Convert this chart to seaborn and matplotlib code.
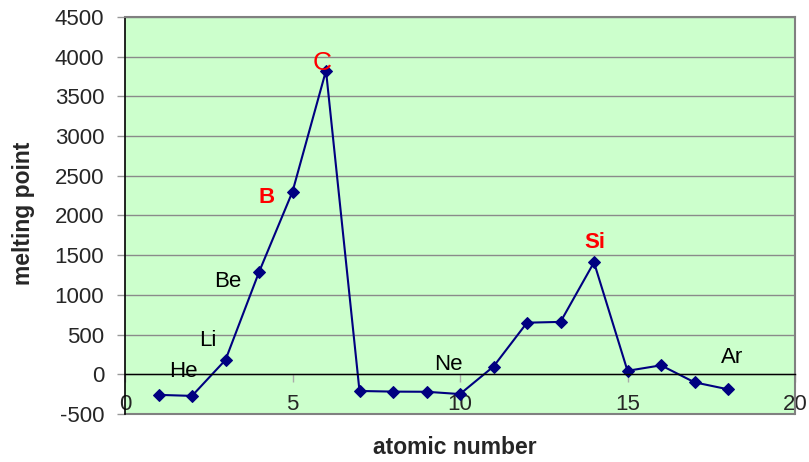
import matplotlib
matplotlib.use("Agg")
import matplotlib.pyplot as plt
import seaborn as sns
import pandas as pd

# Melting points (°C) of the first 18 elements
atomic_number = list(range(1, 19))
melting_point = [-259, -272, 181, 1287, 2300, 3825, -210, -218, -220, -249,
                 98, 650, 660, 1410, 44, 113, -101, -189]

# Element symbols written next to the curve
label_symbols = ["He", "Li", "Be", "B", "C", "Ne", "Si", "Ar"]
x_ticks = [0, 5, 10, 15, 20]
y_ticks = list(range(-500, 4501, 500))

# Where each symbol is written (data coords) and how it is styled
label_xy = {"He": (1.75, 40), "Li": (2.48, 420), "Be": (3.07, 1170),
            "B": (4.24, 2225), "C": (5.87, 3925), "Ne": (9.64, 125),
            "Si": (14.03, 1660), "Ar": (18.12, 215)}
label_style = {"B": dict(color="red", fontweight="bold", fontsize=16),
               "C": dict(color="red", fontsize=19),
               "Si": dict(color="red", fontweight="bold", fontsize=16)}

df = pd.DataFrame({"atomic number": atomic_number, "melting point": melting_point})

sns.set_style("white")
plt.rcParams["font.family"] = ["Liberation Sans", "DejaVu Sans"]

fig = plt.figure(figsize=(8.09, 4.62), dpi=100)
ax = fig.add_axes([125 / 809, 1 - 414 / 462, 670 / 809, 397 / 462])
ax.set_facecolor("#CCFFCC")

sns.lineplot(data=df, x="atomic number", y="melting point", ax=ax,
             color="#000080", linewidth=1.5, marker="D", markersize=6,
             markeredgecolor="#000080", markerfacecolor="#000080")

ax.set_xlim(0, 20)
ax.set_ylim(-500, 4500)
ax.set_xticks(x_ticks)
ax.set_yticks(y_ticks)
ax.set_xticklabels([str(t) for t in x_ticks])
ax.set_yticklabels([str(t) for t in y_ticks])

ax.set_axisbelow(True)
ax.yaxis.grid(True, color="#8a8a8a", linewidth=1)
ax.xaxis.grid(False)

# Horizontal axis runs along zero
ax.spines["bottom"].set_position(("data", 0))
ax.spines["bottom"].set_color("black")
ax.spines["bottom"].set_linewidth(1)
ax.spines["left"].set_color("black")
ax.spines["left"].set_linewidth(1.2)
for side in ("top", "right"):
    ax.spines[side].set_color("#808080")
    ax.spines[side].set_linewidth(1.5)
ax.axhline(-500, color="#808080", linewidth=1.5, clip_on=False)

ax.tick_params(axis="x", direction="out", length=6, width=1, color="#aaaaaa",
               labelsize=16, pad=8, bottom=True)
ax.tick_params(axis="y", direction="out", length=6, width=1, color="#999999",
               labelsize=16, pad=9, left=True)

for sym in label_symbols:
    x, y = label_xy[sym]
    style = dict(color="black", fontsize=16)
    style.update(label_style.get(sym, {}))
    ax.text(x, y, sym, ha="center", va="center", **style)

ax.set_xlabel("atomic number", fontsize=16.5, fontweight="bold")
ax.set_ylabel("melting point", fontsize=16.5, fontweight="bold")
ax.xaxis.set_label_coords(0.4925, -0.0856)
ax.xaxis.label.set_va("center")
ax.yaxis.set_label_coords(-0.152, 0.505)
ax.yaxis.label.set_va("center")

fig.savefig("out.png", dpi=100)
